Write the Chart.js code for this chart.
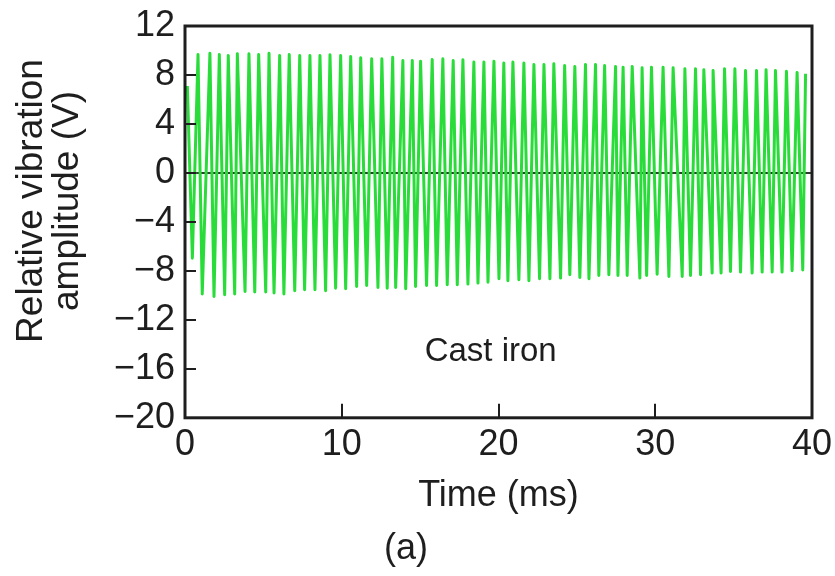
<!DOCTYPE html>
<html>
<head>
<meta charset="utf-8">
<title>Cast iron vibration</title>
<script src="https://cdn.jsdelivr.net/npm/chart.js@4.4.1/dist/chart.umd.min.js"></script>
<style>
    html, body { margin: 0; padding: 0; background: #ffffff; }
    #wrap { width: 835px; height: 576px; }
</style>
</head>
<body>
<div id="wrap"><canvas id="vibChart" width="835" height="576"></canvas></div>
<script>
// Signal: first sample, then troughs and peaks (time in ms, amplitude in V)
const startTime = 0.15;
const startValue = 7.1;

const troughTimes = [0.47, 1.10, 1.85, 2.53, 3.17, 3.83, 4.45, 5.15, 5.68, 6.31, 7.00, 7.63, 8.29, 8.97, 9.61,
    10.25, 10.95, 11.59, 12.31, 12.90, 13.44, 14.08, 14.71, 15.41, 16.05, 16.73, 17.37, 18.05, 18.69, 19.33,
    20.03, 20.60, 21.30, 21.94, 22.62, 23.28, 23.96, 24.55, 25.19, 25.77, 26.40, 27.04, 27.62, 28.21, 29.02,
    29.45, 30.12, 30.87, 31.72, 32.25, 32.89, 33.63, 34.20, 34.80, 35.44, 36.18, 36.82, 37.46, 38.09, 38.73, 39.41];
const troughValues = [-6.96, -9.89, -10.09, -9.95, -9.89, -9.68, -9.73, -9.73, -9.81, -9.89, -9.63, -9.54, -9.54,
    -9.63, -9.41, -9.46, -9.28, -9.19, -9.36, -9.41, -9.36, -9.46, -9.28, -9.19, -9.19, -9.14, -9.14, -9.08, -9.00,
    -8.92, -8.65, -8.81, -8.73, -8.81, -8.65, -8.65, -8.59, -8.32, -8.54, -8.65, -8.38, -8.32, -8.38, -8.38, -8.59,
    -8.38, -8.27, -8.46, -8.46, -8.38, -8.32, -8.18, -8.18, -8.05, -8.10, -8.18, -8.10, -8.10, -8.10, -7.99, -7.92];

const peakTimes = [0.83, 1.59, 2.19, 2.76, 3.34, 4.08, 4.70, 5.36, 6.04, 6.65, 7.32, 7.97, 8.61, 9.25, 9.93,
    10.57, 11.21, 11.91, 12.56, 13.25, 13.90, 14.50, 15.03, 15.77, 16.45, 17.11, 17.73, 18.43, 19.07, 19.71,
    20.34, 20.92, 21.62, 22.26, 22.90, 23.53, 24.22, 24.87, 25.55, 26.19, 26.77, 27.47, 27.95, 28.53, 29.16,
    29.76, 30.50, 31.14, 31.89, 32.57, 33.10, 33.69, 34.42, 35.08, 35.76, 36.46, 37.07, 37.67, 38.37, 39.05, 39.59];
const peakValues = [9.67, 9.78, 9.67, 9.59, 9.73, 9.73, 9.67, 9.78, 9.59, 9.67, 9.59, 9.59, 9.59, 9.65, 9.59,
    9.51, 9.40, 9.32, 9.32, 9.45, 9.18, 9.18, 9.13, 9.27, 9.32, 9.18, 9.24, 9.05, 9.05, 9.13, 8.97, 9.05, 8.97,
    8.86, 8.86, 8.92, 8.78, 8.70, 8.86, 8.86, 8.78, 8.70, 8.64, 8.70, 8.59, 8.64, 8.64, 8.59, 8.51, 8.51, 8.43,
    8.37, 8.51, 8.51, 8.37, 8.37, 8.43, 8.37, 8.31, 8.21, 8.10];

// Axes
const xTicks = [0, 10, 20, 30, 40];
const yTicks = [-20, -16, -12, -8, -4, 0, 4, 8, 12];
const xTitle = 'Time (ms)';
const yTitle = ['Relative vibration', 'amplitude (V)'];
const panelLabel = '(a)';
const materialLabel = 'Cast iron';
const materialAt = { x: 19.5, y: -14.6 };

const FONT = "'Liberation Sans', Arial, Helvetica, sans-serif";
const INK = '#1e1e1e';
const TRACE = 'rgb(42, 220, 58)';

// Build the zigzag: trough then peak, in time order
const points = [{ x: startTime, y: startValue }];
troughTimes.forEach((t, i) => {
    points.push({ x: t, y: troughValues[i] });
    points.push({ x: peakTimes[i], y: peakValues[i] });
});

/**
 * Box frame, inward ticks, rotated y title and the material label
 */
const decorations = {
    id: 'decorations',
    afterDatasetsDraw(chart) {
        const { ctx, chartArea: a, scales } = chart;
        ctx.save();
        ctx.strokeStyle = INK;
        ctx.lineWidth = 3;
        ctx.strokeRect(a.left, a.top, a.right - a.left, a.bottom - a.top);

        ctx.lineWidth = 2;
        ctx.beginPath();
        yTicks.forEach(v => {
            const py = Math.round(scales.y.getPixelForValue(v));
            ctx.moveTo(a.left, py);
            ctx.lineTo(a.left + 11, py);
        });
        xTicks.forEach(v => {
            const px = Math.round(scales.x.getPixelForValue(v));
            ctx.moveTo(px, a.bottom);
            ctx.lineTo(px, a.bottom - 14);
        });
        ctx.stroke();

        ctx.fillStyle = INK;
        ctx.textAlign = 'center';
        ctx.textBaseline = 'middle';
        ctx.font = `33px ${FONT}`;
        ctx.fillText(materialLabel, scales.x.getPixelForValue(materialAt.x), scales.y.getPixelForValue(materialAt.y));
        ctx.restore();
    },
    afterDraw(chart) {
        const { ctx } = chart;
        ctx.save();
        ctx.fillStyle = INK;
        ctx.font = `37px ${FONT}`;
        ctx.textAlign = 'center';
        ctx.textBaseline = 'middle';
        ctx.translate(50, 201);
        ctx.rotate(-Math.PI / 2);
        ctx.fillText(yTitle[0], 0, -18);
        ctx.fillText(yTitle[1], 0, 18);
        ctx.restore();
    }
};

const minusLabel = v => (v < 0 ? '\u2212' + Math.abs(v) : String(v));

new Chart(document.getElementById('vibChart'), {
    type: 'line',
    data: {
        datasets: [{
            label: materialLabel,
            data: points,
            borderColor: TRACE,
            borderWidth: 3,
            borderJoinStyle: 'round',
            pointRadius: 0,
            tension: 0,
            fill: false
        }]
    },
    options: {
        responsive: false,
        devicePixelRatio: 1,
        animation: false,
        layout: { padding: { left: 0, right: 23, top: 26, bottom: 0 } },
        plugins: {
            legend: { display: false },
            tooltip: { enabled: false },
            title: {
                display: true,
                position: 'bottom',
                text: panelLabel,
                color: INK,
                font: { family: FONT, size: 36, weight: 'normal', lineHeight: 1.2 },
                padding: { top: 10, bottom: 5 }
            }
        },
        scales: {
            x: {
                type: 'linear',
                min: xTicks[0],
                max: xTicks[xTicks.length - 1],
                afterFit: scale => {
                    scale.height = 100;
                    scale.paddingLeft = 0;
                    scale.paddingRight = 0;
                },
                afterBuildTicks: scale => { scale.ticks = xTicks.map(v => ({ value: v })); },
                ticks: {
                    color: INK,
                    padding: 6,
                    maxRotation: 0,
                    autoSkip: false,
                    font: { family: FONT, size: 36 }
                },
                grid: { display: false, drawTicks: false },
                border: { display: false },
                title: {
                    display: true,
                    text: xTitle,
                    color: INK,
                    font: { family: FONT, size: 36, lineHeight: 1.2 },
                    padding: { top: 0, bottom: 0 }
                }
            },
            y: {
                min: yTicks[0],
                max: yTicks[yTicks.length - 1],
                afterFit: scale => {
                    scale.width = 185;
                    scale.paddingTop = 0;
                    scale.paddingBottom = 0;
                },
                afterBuildTicks: scale => { scale.ticks = yTicks.map(v => ({ value: v })); },
                ticks: {
                    color: INK,
                    padding: 10,
                    autoSkip: false,
                    font: { family: FONT, size: 36 },
                    callback: minusLabel
                },
                grid: {
                    drawTicks: false,
                    lineWidth: 2,
                    color: ctx => (ctx.tick && ctx.tick.value === 0 ? '#2f3a2f' : 'rgba(0,0,0,0)')
                },
                border: { display: false }
            }
        }
    },
    plugins: [decorations]
});
</script>
</body>
</html>
